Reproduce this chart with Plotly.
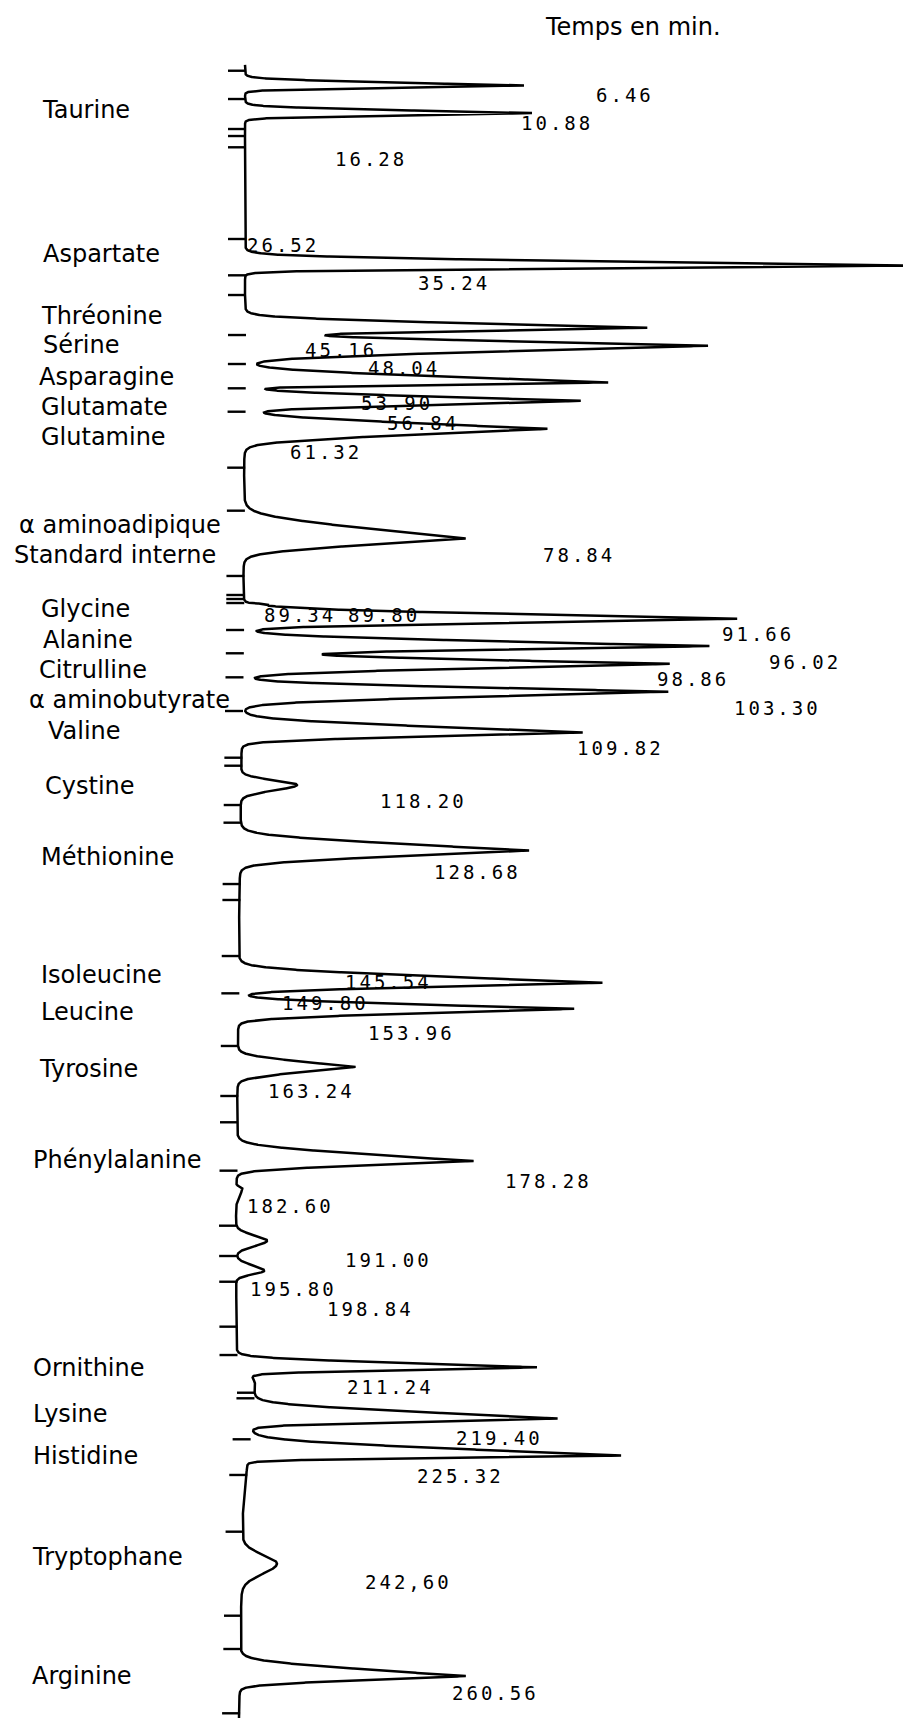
import numpy as np
import plotly.graph_objects as go

# ---------------- data ----------------
# retention times (min) of the drawn peaks
peak_times = [6.46, 10.88, 35.24, 45.16, 48.04, 53.90, 56.84, 61.32, 78.84,
              89.34, 89.80, 91.66, 96.02, 98.86, 103.30, 109.82, 118.20,
              128.68, 149.80, 153.96, 163.24, 178.28, 182.60, 191.00, 195.80,
              211.24, 219.40, 225.32, 242.60, 260.56]
# peak heights (detector units, arbitrary)
peak_heights = [279, 287, 665, 401, 463, 363, 336, 303, 222,
                14, 8, 494, 466, 427, 426, 341, 56,
                289, 364, 336, 118, 237, 6, 31, 28,
                292, 306, 373, 35, 226]
# leading / trailing half-widths (min)
peak_lead = [1.00, 1.00, 1.45, 1.60, 1.63, 2.06, 1.52, 2.08, 3.60,
             0.32, 0.32, 1.66, 1.69, 1.47, 1.49, 2.10, 2.08,
             2.40, 2.20, 1.51, 1.85, 2.40, 0.64, 2.40, 2.40,
             1.50, 2.25, 2.40, 4.00, 2.40]
peak_tail = [0.70, 0.75, 0.82, 1.07, 1.99, 0.75, 1.37, 2.10, 2.25,
             0.48, 0.48, 1.31, 1.17, 1.57, 1.76, 1.36, 2.40,
             1.98, 1.38, 1.55, 1.80, 1.47, 3.20, 2.40, 1.60,
             0.90, 1.10, 0.75, 4.48, 1.40]

# baseline drift of the recorder pen (time in min, offset in detector units)
baseline_t = [3.19, 48.72, 95.05, 141.37, 187.70, 209.27, 213.58, 216.93, 234.03, 267.25]
baseline_v = [2, 2, 0, -4, -7, -6.5, 12, 10, 0, -4]

# integrator event marks (min)
tick_times = [4.11, 8.63, 13.42, 14.54, 16.34, 30.99, 36.79, 39.94, 46.33, 50.96,
              54.84, 58.58, 67.52, 74.39, 84.82, 87.86, 88.50, 89.14, 93.45, 97.17,
              101.01, 106.39, 113.85, 115.13, 121.41, 124.23, 134.03, 136.58, 145.53,
              151.49, 159.90, 167.89, 172.09, 179.82, 188.61, 193.45, 197.56, 204.74,
              209.27, 215.29, 216.18, 222.73, 228.43, 237.49, 250.91, 256.23, 266.50]

# printed retention times
time_labels = ["6.46", "10.88", "16.28", "26.52", "35.24", "45.16", "48.04", "53.90",
               "56.84", "61.32", "78.84", "89.34", "89.80", "91.66", "96.02", "98.86",
               "103.30", "109.82", "118.20", "128.68", "145.54", "149.80", "153.96",
               "163.24", "178.28", "182.60", "191.00", "195.80", "198.84", "211.24",
               "219.40", "225.32", "242,60", "260.56"]

# compound names
compounds = ["Taurine", "Aspartate", "Thréonine", "Sérine", "Asparagine", "Glutamate",
             "Glutamine", "α aminoadipique", "Standard interne", "Glycine", "Alanine",
             "Citrulline", "α aminobutyrate", "Valine", "Cystine", "Méthionine",
             "Isoleucine", "Leucine", "Tyrosine", "Phénylalanine", "Ornithine",
             "Lysine", "Histidine", "Tryptophane", "Arginine"]

# ---------------- layout / style ----------------
W_PX, H_PX = 903, 1718
X0_PX = 243                     # pixel column of the zero signal
PX_PER_MIN = 6.26
Y_TOP = -45.0 / PX_PER_MIN
Y_BOT = Y_TOP + H_PX / PX_PER_MIN

peak_round = [False] * 9 + [True, True] + [False] * 5 + [True] + [False] * 5 + \
             [True, True, True] + [False] * 3 + [True, False]

# label positions (pixels in the page: left edge, vertical centre)
time_label_pos = [(594, 95), (519, 123), (333, 159), (245, 245), (416, 283), (303, 350),
                  (366, 368), (359, 403), (385, 423), (288, 452), (541, 555), (262, 615),
                  (346, 615), (720, 634), (767, 662), (655, 679), (732, 708), (575, 748),
                  (378, 801), (432, 872), (343, 982), (280, 1003), (366, 1033), (266, 1091),
                  (503, 1181), (245, 1206), (343, 1260), (248, 1289), (325, 1309),
                  (345, 1387), (454, 1438), (415, 1476), (363, 1582), (450, 1693)]
compound_pos = [(40, 110), (41, 254), (39, 316), (41, 345), (37, 377), (39, 407),
                (39, 437), (17, 525), (12, 555), (39, 609), (41, 640), (37, 670),
                (27, 700), (46, 731), (43, 786), (39, 857), (39, 975), (39, 1012),
                (37, 1069), (31, 1160), (31, 1368), (31, 1414), (31, 1456), (30, 1557),
                (30, 1676)]


def px_to_x(px):
    return px - X0_PX


def px_to_y(py):
    return Y_TOP + py * (Y_BOT - Y_TOP) / H_PX


def side_profile(d, w, rnd):
    if rnd:
        sig = w / 2.8
        return np.exp(-0.5 * (d / sig) ** 2)
    s = 0.18 * w
    sp = s * np.logaddexp(0.0, (w - d) / s)
    sp0 = s * np.logaddexp(0.0, w / s)
    tau = 0.4 * w
    return 0.97 * sp / sp0 + 0.03 * np.exp(-d / tau)


t = np.arange(3.19, Y_BOT, 0.01)
base = np.interp(t, baseline_t, baseline_v)
signal = np.zeros_like(t)
for t0, h, wl, wt, rnd in zip(peak_times, peak_heights, peak_lead, peak_tail, peak_round):
    d = t - t0
    prof = np.where(d < 0, side_profile(np.abs(d), wl, rnd), side_profile(np.abs(d), wt, rnd))
    signal += h * prof
trace_x = base + signal

fig = go.Figure()
fig.add_trace(go.Scatter(x=trace_x, y=t, mode="lines",
                         line=dict(color="black", width=2.5), hoverinfo="skip",
                         showlegend=False))

# event tick marks
tb = np.interp(tick_times, baseline_t, baseline_v)
tx, ty = [], []
for tt, b in zip(tick_times, tb):
    tx += [b - 17, b + 1, None]
    ty += [tt, tt, None]
fig.add_trace(go.Scatter(x=tx, y=ty, mode="lines", line=dict(color="black", width=2.4),
                         hoverinfo="skip", showlegend=False))

annotations = []
for txt, (px, py) in zip(time_labels, time_label_pos):
    annotations.append(dict(
        x=px_to_x(px), y=px_to_y(py), xref="x", yref="y", xanchor="left", yanchor="middle",
        text='<span style="letter-spacing:3px">' + txt + '</span>', showarrow=False,
        font=dict(family="DejaVu Sans Mono", size=19, color="black")))
for txt, (px, py) in zip(compounds, compound_pos):
    annotations.append(dict(
        x=px_to_x(px), y=px_to_y(py), xref="x", yref="y", xanchor="left", yanchor="middle",
        text=txt, showarrow=False,
        font=dict(family="DejaVu Sans", size=24, color="black")))
annotations.append(dict(
    x=px_to_x(543), y=px_to_y(27), xref="x", yref="y", xanchor="left", yanchor="middle",
    text="Temps en min.", showarrow=False,
    font=dict(family="DejaVu Sans", size=24, color="black")))

fig.update_layout(
    width=W_PX, height=H_PX, margin=dict(l=0, r=0, t=0, b=0, pad=0),
    paper_bgcolor="white", plot_bgcolor="white", showlegend=False,
    xaxis=dict(range=[px_to_x(0), px_to_x(W_PX)], visible=False, fixedrange=True),
    yaxis=dict(range=[Y_BOT, Y_TOP], visible=False, fixedrange=True),
    annotations=annotations,
)

fig.write_html("out.html")
